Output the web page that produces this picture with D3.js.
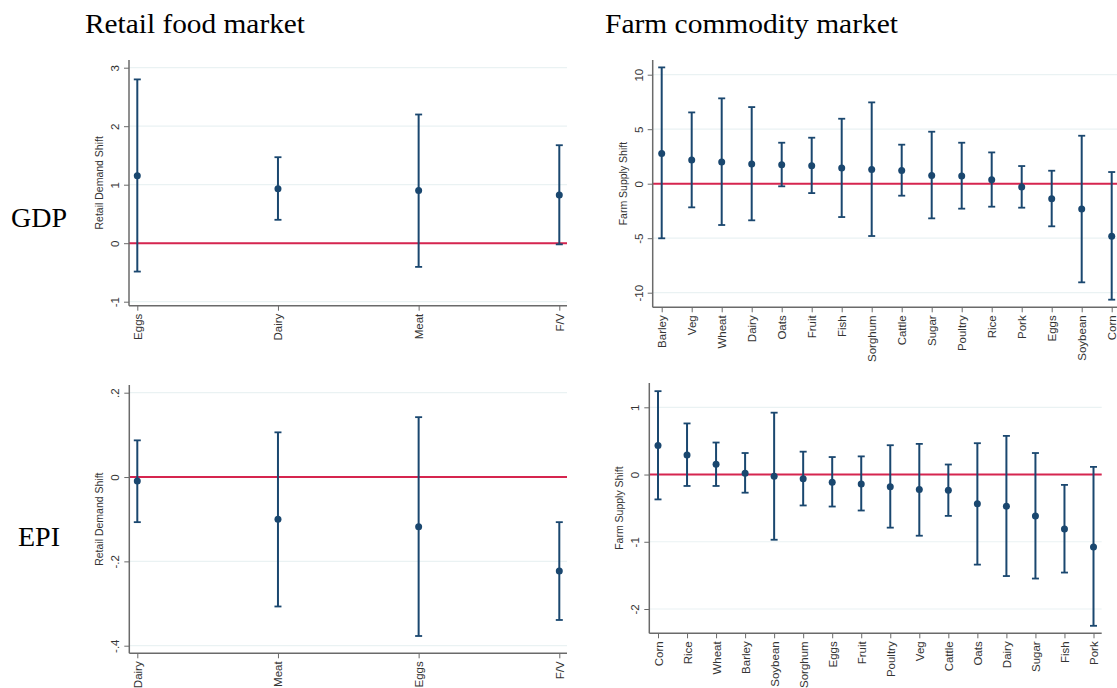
<!DOCTYPE html>
<html><head><meta charset="utf-8">
<script src="https://cdn.jsdelivr.net/npm/d3@7"></script>
<style>
html,body{margin:0;padding:0;background:#fff;overflow:hidden}
svg{display:block}
</style></head>
<body>
<svg id="c" width="1117" height="688"></svg>
<script>
// ---- Data ----
const gdpRetailCats = ["Eggs","Dairy","Meat","F/V"];
const gdpRetailEst  = [1.155, 0.93, 0.90, 0.825];
const gdpRetailLo   = [-0.485, 0.40, -0.405, -0.02];
const gdpRetailHi   = [2.80, 1.47, 2.20, 1.675];
const gdpRetailTicks = [3,2,1,0,-1];
const gdpRetailTickLabels = ["3","2","1","0","-1"];

const gdpFarmCats = ["Barley","Veg","Wheat","Dairy","Oats","Fruit","Fish","Sorghum","Cattle","Sugar","Poultry","Rice","Pork","Eggs","Soybean","Corn"];
const gdpFarmEst  = [2.78, 2.17, 1.99, 1.80, 1.74, 1.65, 1.44, 1.31, 1.22, 0.76, 0.70, 0.37, -0.31, -1.38, -2.32, -4.83];
const gdpFarmLo   = [-5.01, -2.17, -3.79, -3.36, -0.24, -0.86, -3.06, -4.80, -1.10, -3.18, -2.29, -2.11, -2.20, -3.91, -9.05, -10.64];
const gdpFarmHi   = [10.67, 6.54, 7.83, 7.03, 3.76, 4.22, 5.96, 7.46, 3.58, 4.77, 3.76, 2.87, 1.62, 1.19, 4.40, 1.07];
const gdpFarmTicks = [10,5,0,-5,-10];
const gdpFarmTickLabels = ["10","5","0","-5","-10"];

const epiRetailCats = ["Dairy","Meat","Eggs","F/V"];
const epiRetailEst  = [-0.0095, -0.100, -0.118, -0.223];
const epiRetailLo   = [-0.107, -0.307, -0.377, -0.339];
const epiRetailHi   = [0.087, 0.106, 0.142, -0.107];
const epiRetailTicks = [0.2,0,-0.2,-0.4];
const epiRetailTickLabels = [".2","0","-.2","-.4"];

const epiFarmCats = ["Corn","Rice","Wheat","Barley","Soybean","Sorghum","Eggs","Fruit","Poultry","Veg","Cattle","Oats","Dairy","Sugar","Fish","Pork"];
const epiFarmEst  = [0.43, 0.29, 0.154, 0.02, -0.025, -0.064, -0.114, -0.139, -0.183, -0.223, -0.233, -0.436, -0.47, -0.615, -0.81, -1.076];
const epiFarmLo   = [-0.37, -0.17, -0.17, -0.27, -0.97, -0.46, -0.476, -0.535, -0.79, -0.91, -0.615, -1.34, -1.51, -1.547, -1.458, -2.25];
const epiFarmHi   = [1.24, 0.76, 0.476, 0.32, 0.92, 0.34, 0.26, 0.27, 0.436, 0.456, 0.149, 0.466, 0.575, 0.32, -0.154, 0.114];
const epiFarmTicks = [1,0,-1,-2];
const epiFarmTickLabels = ["1","0","-1","-2"];

const colTitles = ["Retail food market","Farm commodity market"];
const rowTitles = ["GDP","EPI"];
const retailYTitle = "Retail Demand Shift";
const farmYTitle = "Farm Supply Shift";

// ---- Styles ----
const NAVY = "#1a476f";
const RED = "#d6254f";
const GRID = "#eaf2f3";
const AXIS = "#6a6a6a";
const FONT = "'Liberation Sans', Arial, sans-serif";
const SERIF = "'Liberation Serif', 'Times New Roman', serif";

const svg = d3.select("#c");

const panels = [
  {cats: gdpRetailCats, est: gdpRetailEst, lo: gdpRetailLo, hi: gdpRetailHi, ticks: gdpRetailTicks, tl: gdpRetailTickLabels,
   title: retailYTitle, ax: 129, right: 567, top: 60, bottom: 305.7, c0: 137.3, c1: 559.3,
   dom: [-1, 3], rng: [301.7, 67.7]},
  {cats: gdpFarmCats, est: gdpFarmEst, lo: gdpFarmLo, hi: gdpFarmHi, ticks: gdpFarmTicks, tl: gdpFarmTickLabels,
   title: farmYTitle, ax: 652.7, right: 1122, top: 60, bottom: 307.3, c0: 661.7, c1: 1111.7,
   dom: [-10, 10], rng: [292.7, 74.7]},
  {cats: epiRetailCats, est: epiRetailEst, lo: epiRetailLo, hi: epiRetailHi, ticks: epiRetailTicks, tl: epiRetailTickLabels,
   title: retailYTitle, ax: 129.3, right: 567, top: 385, bottom: 653.3, c0: 137.3, c1: 559.3,
   dom: [-0.4, 0.2], rng: [645.7, 392.7]},
  {cats: epiFarmCats, est: epiFarmEst, lo: epiFarmLo, hi: epiFarmHi, ticks: epiFarmTicks, tl: epiFarmTickLabels,
   title: farmYTitle, ax: 649.3, right: 1101.7, top: 383, bottom: 633.3, c0: 658, c1: 1093.5,
   dom: [-2, 1], rng: [609, 407.3]}
];

panels.forEach(p => {
  const g = svg.append("g");
  const x = d3.scalePoint().domain(p.cats).range([p.c0, p.c1]).padding(0);
  const y = d3.scaleLinear().domain(p.dom).range(p.rng);

  // gridlines
  g.selectAll(".grid").data(p.ticks).join("line")
    .attr("x1", p.ax).attr("x2", p.right)
    .attr("y1", d => y(d)).attr("y2", d => y(d))
    .attr("stroke", GRID).attr("stroke-width", 1.2);

  // zero line
  g.append("line").attr("x1", p.ax).attr("x2", p.right)
    .attr("y1", y(0)).attr("y2", y(0))
    .attr("stroke", RED).attr("stroke-width", 2);

  // y axis
  const yAxis = d3.axisLeft(y).tickValues(p.ticks).tickFormat((d, i) => p.tl[i]).tickSize(5).tickSizeOuter(0);
  const ya = g.append("g").attr("transform", `translate(${p.ax},0)`).call(yAxis);
  ya.select(".domain").remove();
  ya.selectAll(".tick line").attr("stroke", AXIS).attr("stroke-width", 1);
  ya.selectAll(".tick text")
    .attr("x", null).attr("dy", null)
    .attr("transform", "translate(-14,0) rotate(-90)")
    .attr("text-anchor", "middle").attr("dominant-baseline", "central")
    .attr("font-family", FONT).attr("font-size", 11.5).attr("fill", "#333");
  g.append("line").attr("x1", p.ax).attr("x2", p.ax).attr("y1", p.top).attr("y2", p.bottom)
    .attr("stroke", AXIS).attr("stroke-width", 1.5);

  // x axis
  const xAxis = d3.axisBottom(x).tickSize(5).tickSizeOuter(0);
  const xa = g.append("g").attr("transform", `translate(0,${p.bottom})`).call(xAxis);
  xa.select(".domain").remove();
  xa.selectAll(".tick line").attr("stroke", AXIS).attr("stroke-width", 1);
  xa.selectAll(".tick text")
    .attr("y", null).attr("dy", null)
    .attr("transform", "translate(0,8) rotate(-90)")
    .attr("text-anchor", "end").attr("dominant-baseline", "central")
    .attr("font-family", FONT).attr("font-size", 11.5).attr("fill", "#333");
  g.append("line").attr("x1", p.ax).attr("x2", p.right).attr("y1", p.bottom).attr("y2", p.bottom)
    .attr("stroke", AXIS).attr("stroke-width", 1.5);

  // y title
  g.append("text")
    .attr("transform", `translate(${p.ax - 30},${(p.top + p.bottom) / 2}) rotate(-90)`)
    .attr("text-anchor", "middle").attr("dominant-baseline", "central")
    .attr("font-family", FONT).attr("font-size", 10.5).attr("fill", "#333")
    .text(p.title);

  // error bars
  const rows = p.cats.map((c, i) => ({c, e: p.est[i], lo: p.lo[i], hi: p.hi[i]}));
  const cap = 3.5;
  const eb = g.selectAll(".eb").data(rows).join("g");
  eb.append("line").attr("x1", d => x(d.c)).attr("x2", d => x(d.c))
    .attr("y1", d => y(d.lo)).attr("y2", d => y(d.hi))
    .attr("stroke", NAVY).attr("stroke-width", 2);
  eb.append("line").attr("x1", d => x(d.c) - cap).attr("x2", d => x(d.c) + cap)
    .attr("y1", d => y(d.lo)).attr("y2", d => y(d.lo))
    .attr("stroke", NAVY).attr("stroke-width", 1.8);
  eb.append("line").attr("x1", d => x(d.c) - cap).attr("x2", d => x(d.c) + cap)
    .attr("y1", d => y(d.hi)).attr("y2", d => y(d.hi))
    .attr("stroke", NAVY).attr("stroke-width", 1.8);
  eb.append("circle").attr("cx", d => x(d.c)).attr("cy", d => y(d.e)).attr("r", 3.5)
    .attr("fill", NAVY);
});

// column & row titles
svg.append("text").attr("x", 85).attr("y", 33).attr("font-family", SERIF).attr("font-size", 27)
  .attr("textLength", 220).attr("lengthAdjust", "spacingAndGlyphs").attr("fill", "#000").text(colTitles[0]);
svg.append("text").attr("x", 605).attr("y", 33).attr("font-family", SERIF).attr("font-size", 27)
  .attr("textLength", 293).attr("lengthAdjust", "spacingAndGlyphs").attr("fill", "#000").text(colTitles[1]);
svg.append("text").attr("x", 11).attr("y", 226.5).attr("font-family", SERIF).attr("font-size", 28)
  .attr("fill", "#000").text(rowTitles[0]);
svg.append("text").attr("x", 18).attr("y", 545.5).attr("font-family", SERIF).attr("font-size", 28)
  .attr("fill", "#000").text(rowTitles[1]);
</script>
</body></html>
